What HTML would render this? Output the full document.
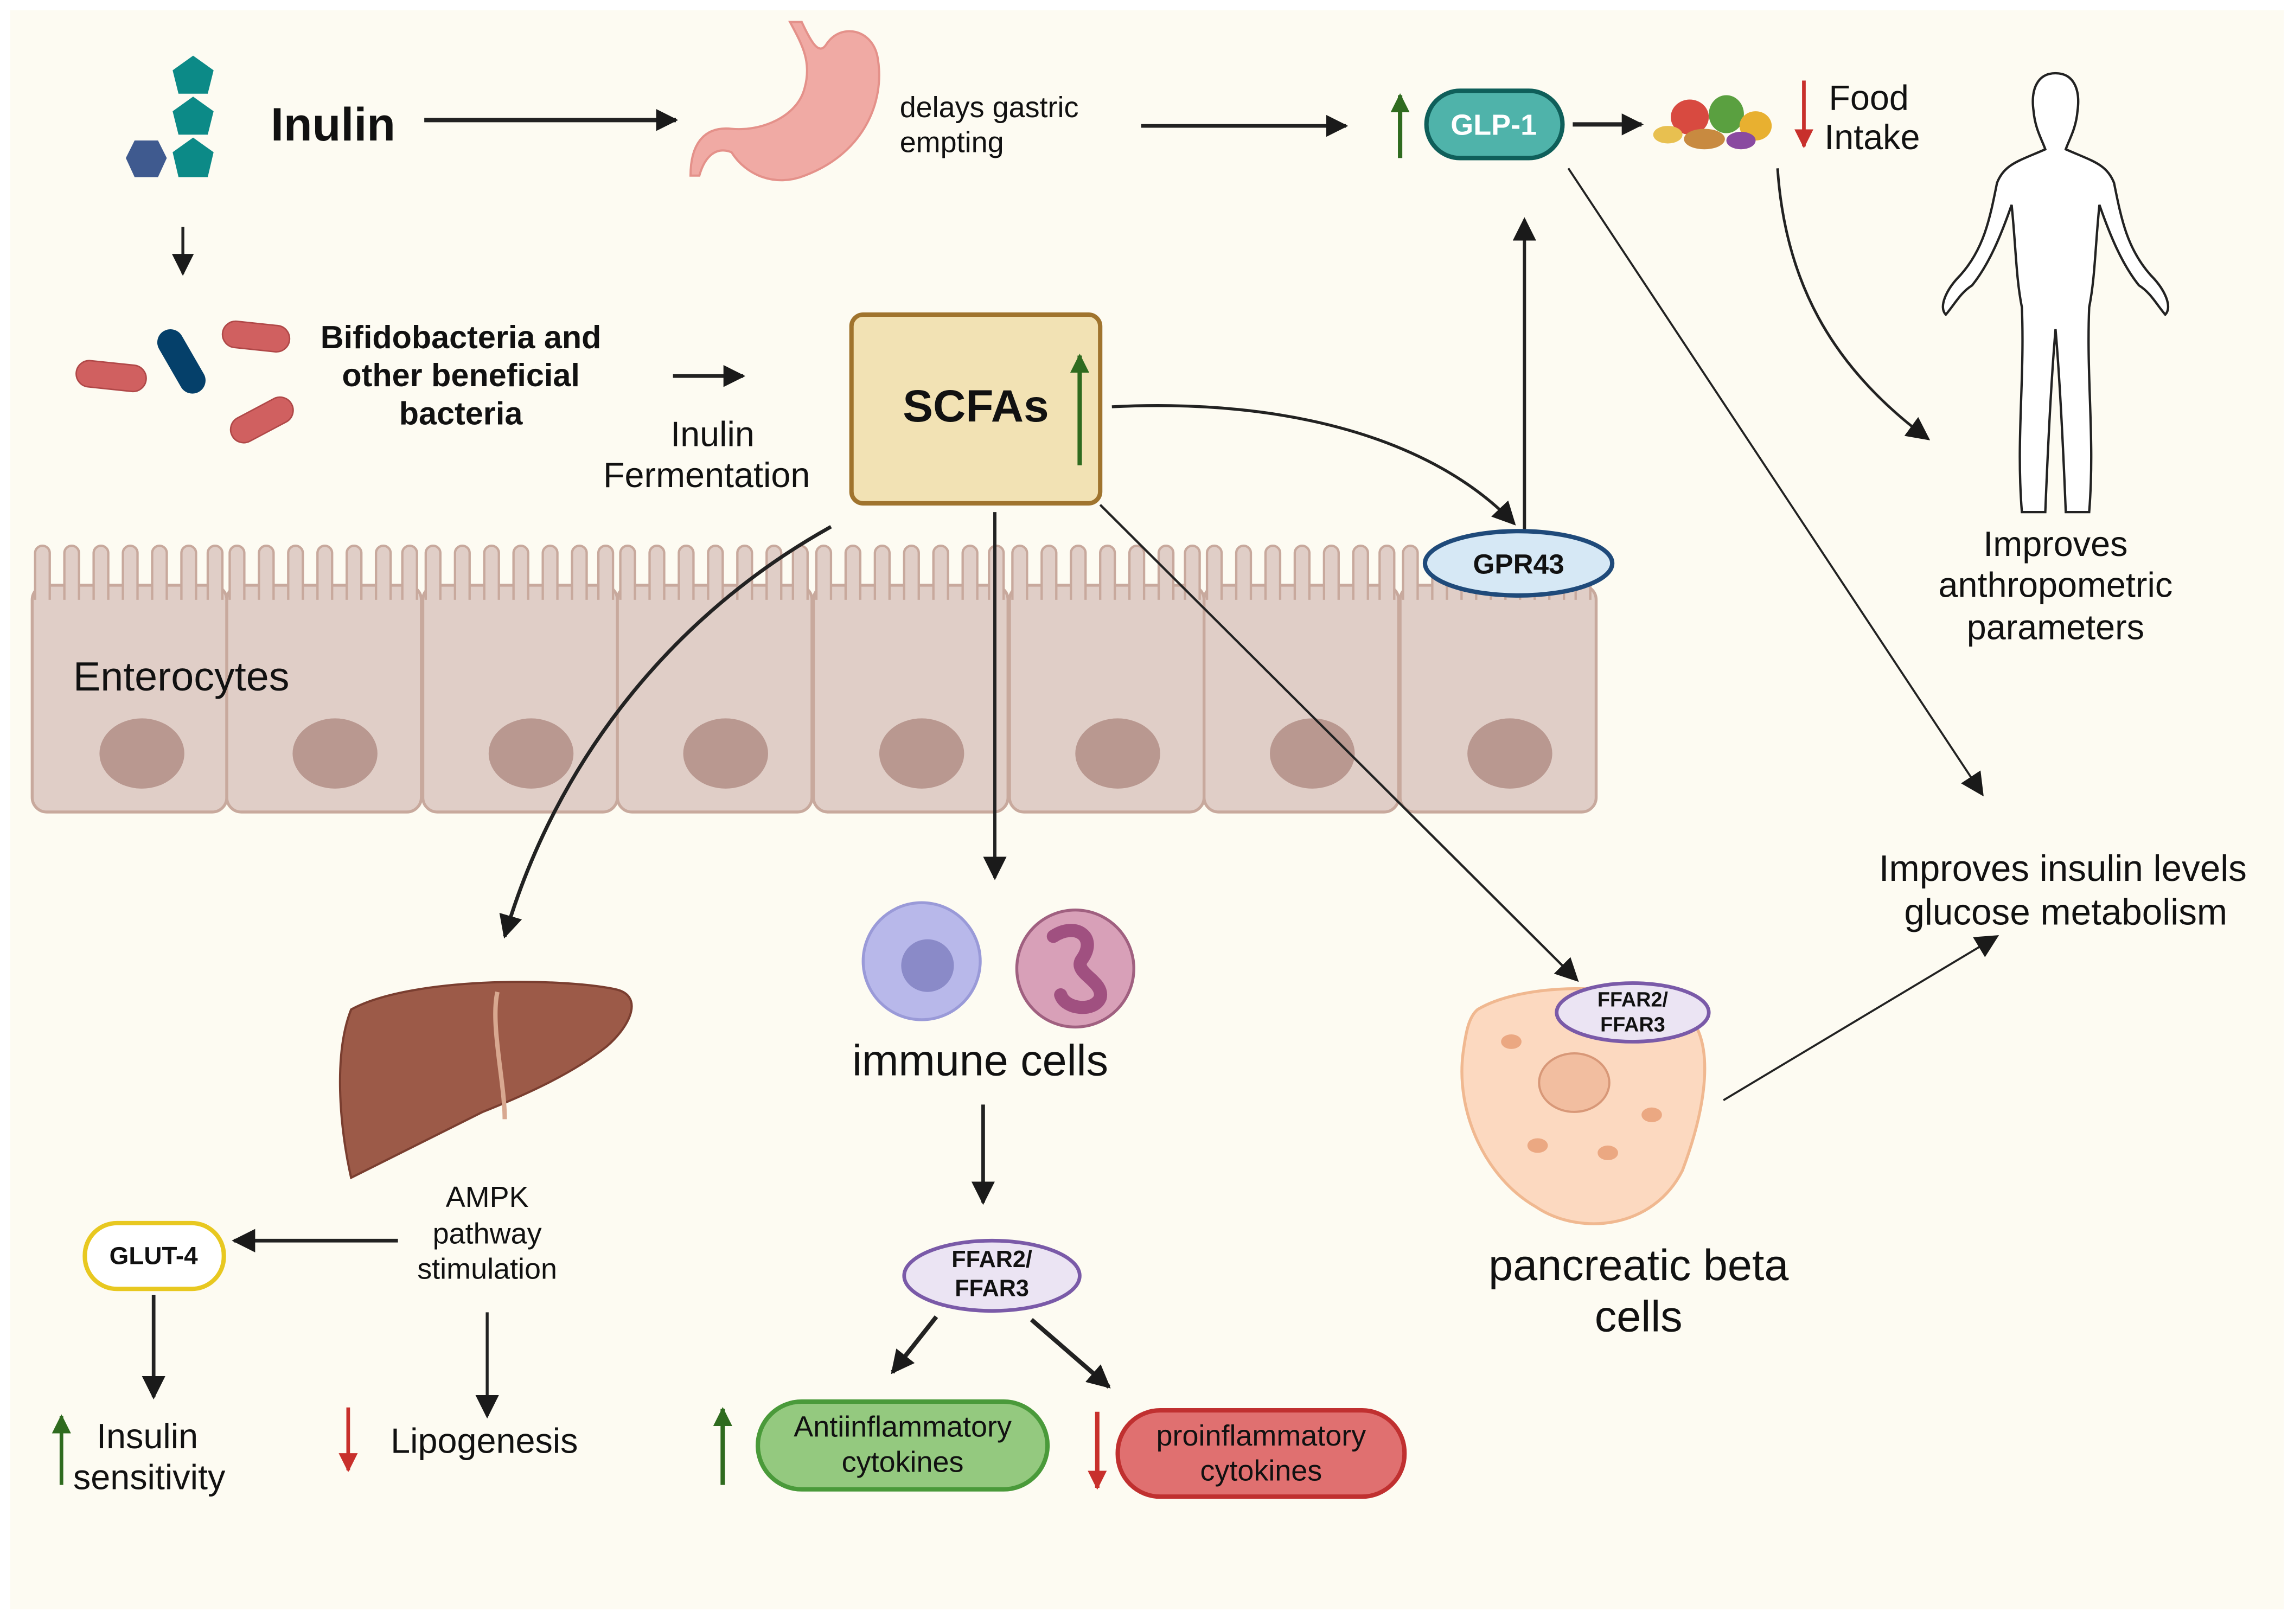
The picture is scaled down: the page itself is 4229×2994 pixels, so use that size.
<!DOCTYPE html>
<html><head><meta charset="utf-8">
<style>
html,body{margin:0;padding:0;background:#fff;}
svg{display:block;}
text{font-family:"Liberation Sans",sans-serif;fill:#111;}
</style></head>
<body>
<svg width="4229" height="2994" viewBox="0 0 1568 1110" xmlns="http://www.w3.org/2000/svg">
<defs>
<marker id="ah" viewBox="0 0 10 10" refX="9" refY="5" markerUnits="userSpaceOnUse" markerWidth="15" markerHeight="15" orient="auto"><path d="M0,0 L10,5 L0,10 z" fill="#1a1a1a"/></marker>
<marker id="ahs" viewBox="0 0 10 10" refX="9" refY="5" markerUnits="userSpaceOnUse" markerWidth="16" markerHeight="16" orient="auto"><path d="M0,0 L10,5 L0,10 z" fill="#1a1a1a"/></marker>
<marker id="ag" viewBox="0 0 10 10" refX="9" refY="5" markerUnits="userSpaceOnUse" markerWidth="13" markerHeight="13" orient="auto"><path d="M0,0 L10,5 L0,10 z" fill="#2f6b1f"/></marker>
<marker id="ar" viewBox="0 0 10 10" refX="9" refY="5" markerUnits="userSpaceOnUse" markerWidth="13" markerHeight="13" orient="auto"><path d="M0,0 L10,5 L0,10 z" fill="#c8302c"/></marker>
</defs>
<rect x="0" y="0" width="1568" height="1110" fill="#fff"/>
<rect x="7" y="7" width="1554" height="1093" fill="#fdfbf2"/>

<g fill="#0c8a87">
<polygon points="132,38 146,48 142,64 122,64 118,48"/>
<polygon points="132,66 146,76 142,92 122,92 118,76"/>
<polygon points="132,94 146,104 142,121 122,121 118,104"/>
</g>
<polygon points="92,96 108,96 114,108 108,121 92,121 86,108" fill="#3f5a8f"/>
<text x="185" y="96" font-size="32" font-weight="bold">Inulin</text>
<line x1="290" y1="82" x2="462" y2="82" stroke="#222" stroke-width="3" marker-end="url(#ah)"/>

<path d="M540,15 C548,30 555,42 550,60 C545,80 520,90 500,88 C480,86 472,100 472,120 L478,120 C482,106 490,100 500,104 C510,120 530,128 550,120 C590,105 605,70 600,40 C597,20 575,15 565,30 C560,38 555,30 548,15 z" fill="#f0aaa4" stroke="#e4918a" stroke-width="1.5"/>
<text x="615" y="80" font-size="20">delays gastric</text>
<text x="615" y="104" font-size="20">empting</text>
<line x1="780" y1="86" x2="920" y2="86" stroke="#222" stroke-width="2.5" marker-end="url(#ah)"/>

<line x1="957" y1="108" x2="957" y2="65" stroke="#2f6b1f" stroke-width="3" marker-end="url(#ag)"/>
<rect x="975" y="62" width="93" height="46" rx="23" fill="#4fb3aa" stroke="#0f5f5a" stroke-width="3"/>
<text x="1021" y="92" font-size="20" font-weight="bold" text-anchor="middle" style="fill:#fff">GLP-1</text>
<line x1="1075" y1="85" x2="1122" y2="85" stroke="#222" stroke-width="3" marker-end="url(#ah)"/>
<g>
<ellipse cx="1155" cy="80" rx="13" ry="12" fill="#d84a40"/>
<ellipse cx="1180" cy="78" rx="12" ry="13" fill="#5aa040"/>
<ellipse cx="1200" cy="86" rx="11" ry="10" fill="#e8b030"/>
<ellipse cx="1165" cy="95" rx="14" ry="7" fill="#c88a40"/>
<ellipse cx="1140" cy="92" rx="10" ry="6" fill="#e8c050"/>
<ellipse cx="1190" cy="96" rx="10" ry="6" fill="#8a4aa0"/>
</g>
<line x1="1233" y1="55" x2="1233" y2="100" stroke="#c8302c" stroke-width="2.5" marker-end="url(#ar)"/>
<text x="1250" y="75" font-size="24">Food</text>
<text x="1247" y="102" font-size="24">Intake</text>

<path d="M1405,50 C1392,50 1388,62 1390,76 C1391,88 1396,96 1398,102 C1380,110 1370,112 1365,125 C1360,150 1356,170 1340,188 C1330,198 1325,210 1330,215 C1336,208 1340,200 1348,195 C1360,180 1368,160 1375,140 C1378,170 1378,190 1382,210 C1384,260 1378,300 1382,350 L1398,350 C1400,300 1402,260 1405,225 C1408,260 1410,300 1412,350 L1428,350 C1432,300 1426,260 1428,210 C1432,190 1432,170 1435,140 C1442,160 1450,180 1462,195 C1470,200 1474,208 1480,215 C1485,210 1480,198 1470,188 C1454,170 1450,150 1445,125 C1440,112 1430,110 1412,102 C1414,96 1419,88 1420,76 C1422,62 1418,50 1405,50 z" fill="#fff" stroke="#222" stroke-width="1.6"/>
<text x="1405" y="380" font-size="24" text-anchor="middle">Improves</text>
<text x="1405" y="408" font-size="24" text-anchor="middle">anthropometric</text>
<text x="1405" y="437" font-size="24" text-anchor="middle">parameters</text>
<path d="M1215,115 C1220,190 1250,250 1318,300" fill="none" stroke="#222" stroke-width="1.8" marker-end="url(#ahs)"/>
<line x1="1072" y1="115" x2="1355" y2="543" stroke="#222" stroke-width="1.4" marker-end="url(#ahs)"/>

<line x1="125" y1="155" x2="125" y2="187" stroke="#222" stroke-width="2" marker-end="url(#ah)"/>
<rect x="52" y="248" width="48" height="18" rx="9" fill="#d06060" stroke="#b04848" transform="rotate(6 76 257)"/>
<rect x="152" y="221" width="46" height="18" rx="9" fill="#d06060" stroke="#b04848" transform="rotate(6 175 230)"/>
<rect x="156" y="278" width="46" height="18" rx="9" fill="#d06060" stroke="#b04848" transform="rotate(-28 179 287)"/>
<rect x="100" y="238" width="48" height="18" rx="9" fill="#05406a" transform="rotate(60 124 247)"/>
<text x="315" y="238" font-size="22" font-weight="bold" text-anchor="middle">Bifidobacteria and</text>
<text x="315" y="264" font-size="22" font-weight="bold" text-anchor="middle">other beneficial</text>
<text x="315" y="290" font-size="22" font-weight="bold" text-anchor="middle">bacteria</text>
<line x1="460" y1="257" x2="508" y2="257" stroke="#222" stroke-width="2.5" marker-end="url(#ah)"/>
<text x="487" y="305" font-size="24" text-anchor="middle">Inulin</text>
<text x="483" y="333" font-size="24" text-anchor="middle">Fermentation</text>

<g fill="#e0cec7" stroke="#c8a99d" stroke-width="2">
<rect x="22" y="400" width="133" height="155" rx="10"/>
<rect x="155" y="400" width="133" height="155" rx="10"/>
<rect x="289" y="400" width="133" height="155" rx="10"/>
<rect x="422" y="400" width="133" height="155" rx="10"/>
<rect x="556" y="400" width="133" height="155" rx="10"/>
<rect x="690" y="400" width="133" height="155" rx="10"/>
<rect x="823" y="400" width="133" height="155" rx="10"/>
<rect x="957" y="400" width="134" height="155" rx="10"/>
</g>
<g fill="#e0cec7" stroke="#c8a99d" stroke-width="1.6">
<path id="vl" d="M24,410 L24,378 a5,5 0 0 1 10,0 L34,410 M44,410 L44,378 a5,5 0 0 1 10,0 L54,410 M64,410 L64,378 a5,5 0 0 1 10,0 L74,410 M84,410 L84,378 a5,5 0 0 1 10,0 L94,410 M104,410 L104,378 a5,5 0 0 1 10,0 L114,410 M124,410 L124,378 a5,5 0 0 1 10,0 L134,410 M142,410 L142,378 a5,5 0 0 1 10,0 L152,410"/>
<path transform="translate(133,0)" d="M24,410 L24,378 a5,5 0 0 1 10,0 L34,410 M44,410 L44,378 a5,5 0 0 1 10,0 L54,410 M64,410 L64,378 a5,5 0 0 1 10,0 L74,410 M84,410 L84,378 a5,5 0 0 1 10,0 L94,410 M104,410 L104,378 a5,5 0 0 1 10,0 L114,410 M124,410 L124,378 a5,5 0 0 1 10,0 L134,410 M142,410 L142,378 a5,5 0 0 1 10,0 L152,410"/>
<path transform="translate(267,0)" d="M24,410 L24,378 a5,5 0 0 1 10,0 L34,410 M44,410 L44,378 a5,5 0 0 1 10,0 L54,410 M64,410 L64,378 a5,5 0 0 1 10,0 L74,410 M84,410 L84,378 a5,5 0 0 1 10,0 L94,410 M104,410 L104,378 a5,5 0 0 1 10,0 L114,410 M124,410 L124,378 a5,5 0 0 1 10,0 L134,410 M142,410 L142,378 a5,5 0 0 1 10,0 L152,410"/>
<path transform="translate(400,0)" d="M24,410 L24,378 a5,5 0 0 1 10,0 L34,410 M44,410 L44,378 a5,5 0 0 1 10,0 L54,410 M64,410 L64,378 a5,5 0 0 1 10,0 L74,410 M84,410 L84,378 a5,5 0 0 1 10,0 L94,410 M104,410 L104,378 a5,5 0 0 1 10,0 L114,410 M124,410 L124,378 a5,5 0 0 1 10,0 L134,410 M142,410 L142,378 a5,5 0 0 1 10,0 L152,410"/>
<path transform="translate(534,0)" d="M24,410 L24,378 a5,5 0 0 1 10,0 L34,410 M44,410 L44,378 a5,5 0 0 1 10,0 L54,410 M64,410 L64,378 a5,5 0 0 1 10,0 L74,410 M84,410 L84,378 a5,5 0 0 1 10,0 L94,410 M104,410 L104,378 a5,5 0 0 1 10,0 L114,410 M124,410 L124,378 a5,5 0 0 1 10,0 L134,410 M142,410 L142,378 a5,5 0 0 1 10,0 L152,410"/>
<path transform="translate(668,0)" d="M24,410 L24,378 a5,5 0 0 1 10,0 L34,410 M44,410 L44,378 a5,5 0 0 1 10,0 L54,410 M64,410 L64,378 a5,5 0 0 1 10,0 L74,410 M84,410 L84,378 a5,5 0 0 1 10,0 L94,410 M104,410 L104,378 a5,5 0 0 1 10,0 L114,410 M124,410 L124,378 a5,5 0 0 1 10,0 L134,410 M142,410 L142,378 a5,5 0 0 1 10,0 L152,410"/>
<path transform="translate(801,0)" d="M24,410 L24,378 a5,5 0 0 1 10,0 L34,410 M44,410 L44,378 a5,5 0 0 1 10,0 L54,410 M64,410 L64,378 a5,5 0 0 1 10,0 L74,410 M84,410 L84,378 a5,5 0 0 1 10,0 L94,410 M104,410 L104,378 a5,5 0 0 1 10,0 L114,410 M124,410 L124,378 a5,5 0 0 1 10,0 L134,410 M142,410 L142,378 a5,5 0 0 1 10,0 L152,410"/>
<path transform="translate(935,0)" d="M24,410 L24,378 a5,5 0 0 1 10,0 L34,410 M44,410 L44,378 a5,5 0 0 1 10,0 L54,410 M64,410 L64,378 a5,5 0 0 1 10,0 L74,410 M84,410 L84,378 a5,5 0 0 1 10,0 L94,410 M104,410 L104,378 a5,5 0 0 1 10,0 L114,410 M124,410 L124,378 a5,5 0 0 1 10,0 L134,410 M142,410 L142,378 a5,5 0 0 1 10,0 L152,410"/>
</g>
<g fill="#b99890">
<ellipse cx="97" cy="515" rx="29" ry="24"/>
<ellipse cx="229" cy="515" rx="29" ry="24"/>
<ellipse cx="363" cy="515" rx="29" ry="24"/>
<ellipse cx="496" cy="515" rx="29" ry="24"/>
<ellipse cx="630" cy="515" rx="29" ry="24"/>
<ellipse cx="764" cy="515" rx="29" ry="24"/>
<ellipse cx="897" cy="515" rx="29" ry="24"/>
<ellipse cx="1032" cy="515" rx="29" ry="24"/>
</g>
<text x="50" y="472" font-size="28">Enterocytes</text>

<rect x="582" y="215" width="170" height="129" rx="8" fill="#f2e2b4" stroke="#a0742e" stroke-width="3"/>
<text x="667" y="288" font-size="31" font-weight="bold" text-anchor="middle">SCFAs</text>
<line x1="738" y1="318" x2="738" y2="243" stroke="#2f6b1f" stroke-width="3" marker-end="url(#ag)"/>

<path d="M760,278 C880,272 980,300 1035,358" fill="none" stroke="#222" stroke-width="2" marker-end="url(#ahs)"/>
<line x1="1042" y1="362" x2="1042" y2="150" stroke="#222" stroke-width="2.2" marker-end="url(#ahs)"/>
<path d="M568,360 C460,420 380,520 345,640" fill="none" stroke="#222" stroke-width="2.5" marker-end="url(#ahs)"/>
<line x1="680" y1="350" x2="680" y2="600" stroke="#222" stroke-width="2.2" marker-end="url(#ahs)"/>
<line x1="752" y1="345" x2="1078" y2="670" stroke="#222" stroke-width="1.6" marker-end="url(#ahs)"/>

<ellipse cx="1038" cy="385" rx="64" ry="22" fill="#d6e8f5" stroke="#1f4a7a" stroke-width="3"/>
<text x="1038" y="392" font-size="19" font-weight="bold" text-anchor="middle">GPR43</text>

<circle cx="630" cy="657" r="40" fill="#b8b8ea" stroke="#9a9ad8" stroke-width="2"/>
<circle cx="634" cy="660" r="18" fill="#8a8ac8"/>
<circle cx="735" cy="662" r="40" fill="#d8a0b8" stroke="#a06080" stroke-width="2"/>
<path d="M720,640 C735,630 750,640 740,655 C732,665 755,670 752,682 C748,692 728,690 725,680" fill="none" stroke="#a05080" stroke-width="9" stroke-linecap="round"/>
<text x="670" y="735" font-size="30" text-anchor="middle">immune cells</text>
<line x1="672" y1="755" x2="672" y2="822" stroke="#222" stroke-width="2.5" marker-end="url(#ahs)"/>
<ellipse cx="678" cy="872" rx="60" ry="24" fill="#ebe4f3" stroke="#7a5aa8" stroke-width="2.5"/>
<text x="678" y="866" font-size="16" font-weight="bold" text-anchor="middle">FFAR2/</text>
<text x="678" y="886" font-size="16" font-weight="bold" text-anchor="middle">FFAR3</text>
<line x1="640" y1="900" x2="610" y2="938" stroke="#222" stroke-width="3" marker-end="url(#ahs)"/>
<line x1="705" y1="902" x2="758" y2="948" stroke="#222" stroke-width="3" marker-end="url(#ahs)"/>
<line x1="494" y1="1015" x2="494" y2="963" stroke="#2f6b1f" stroke-width="3" marker-end="url(#ag)"/>
<rect x="518" y="958" width="198" height="60" rx="30" fill="#94c97f" stroke="#4a9a3a" stroke-width="3"/>
<text x="617" y="982" font-size="20" text-anchor="middle">Antiinflammatory</text>
<text x="617" y="1006" font-size="20" text-anchor="middle">cytokines</text>
<line x1="750" y1="965" x2="750" y2="1017" stroke="#c8302c" stroke-width="3" marker-end="url(#ar)"/>
<rect x="764" y="964" width="196" height="59" rx="29" fill="#e07070" stroke="#c03030" stroke-width="3"/>
<text x="862" y="988" font-size="20" text-anchor="middle">proinflammatory</text>
<text x="862" y="1012" font-size="20" text-anchor="middle">cytokines</text>

<path d="M240,690 C280,668 380,668 420,676 C440,680 432,700 415,715 C390,735 355,750 330,760 C300,775 270,790 240,805 C232,770 228,720 240,690 z" fill="#9c5a48" stroke="#7a3e30" stroke-width="1.5"/>
<path d="M340,678 C335,700 345,740 345,765" fill="none" stroke="#d8a890" stroke-width="3"/>
<text x="333" y="825" font-size="20" text-anchor="middle">AMPK</text>
<text x="333" y="850" font-size="20" text-anchor="middle">pathway</text>
<text x="333" y="874" font-size="20" text-anchor="middle">stimulation</text>
<line x1="272" y1="848" x2="160" y2="848" stroke="#222" stroke-width="2.5" marker-end="url(#ahs)"/>
<rect x="58" y="836" width="95" height="45" rx="22" fill="#fff" stroke="#e8c820" stroke-width="3"/>
<text x="105" y="864" font-size="17" font-weight="bold" text-anchor="middle">GLUT-4</text>
<line x1="105" y1="885" x2="105" y2="955" stroke="#222" stroke-width="2.5" marker-end="url(#ahs)"/>
<line x1="333" y1="897" x2="333" y2="968" stroke="#222" stroke-width="2" marker-end="url(#ahs)"/>
<line x1="42" y1="1015" x2="42" y2="968" stroke="#2f6b1f" stroke-width="2.5" marker-end="url(#ag)"/>
<text x="66" y="990" font-size="24">Insulin</text>
<text x="50" y="1018" font-size="24">sensitivity</text>
<line x1="238" y1="962" x2="238" y2="1005" stroke="#c8302c" stroke-width="2.5" marker-end="url(#ar)"/>
<text x="267" y="993" font-size="24">Lipogenesis</text>

<path d="M1010,690 C1040,672 1110,670 1150,690 C1175,710 1165,760 1150,800 C1130,840 1080,845 1050,825 C1015,805 995,760 1000,720 C1002,705 1004,695 1010,690 z" fill="#fcd9c0" stroke="#f0b890" stroke-width="2"/>
<ellipse cx="1076" cy="740" rx="24" ry="20" fill="#f2bea0" stroke="#d89878" stroke-width="1.5"/>
<g fill="#eba882"><ellipse cx="1033" cy="712" rx="7" ry="5"/><ellipse cx="1051" cy="783" rx="7" ry="5"/><ellipse cx="1099" cy="788" rx="7" ry="5"/><ellipse cx="1129" cy="762" rx="7" ry="5"/></g>
<ellipse cx="1116" cy="692" rx="52" ry="20" fill="#ebe4f3" stroke="#7a5aa8" stroke-width="2.5"/>
<text x="1116" y="688" font-size="14" font-weight="bold" text-anchor="middle">FFAR2/</text>
<text x="1116" y="705" font-size="14" font-weight="bold" text-anchor="middle">FFAR3</text>
<text x="1120" y="875" font-size="30" text-anchor="middle">pancreatic beta</text>
<text x="1120" y="910" font-size="30" text-anchor="middle">cells</text>
<line x1="1178" y1="752" x2="1365" y2="640" stroke="#222" stroke-width="1.4" marker-end="url(#ahs)"/>
<text x="1410" y="602" font-size="25" text-anchor="middle">Improves insulin levels</text>
<text x="1412" y="632" font-size="25" text-anchor="middle">glucose metabolism</text>
</svg>
</body></html>
